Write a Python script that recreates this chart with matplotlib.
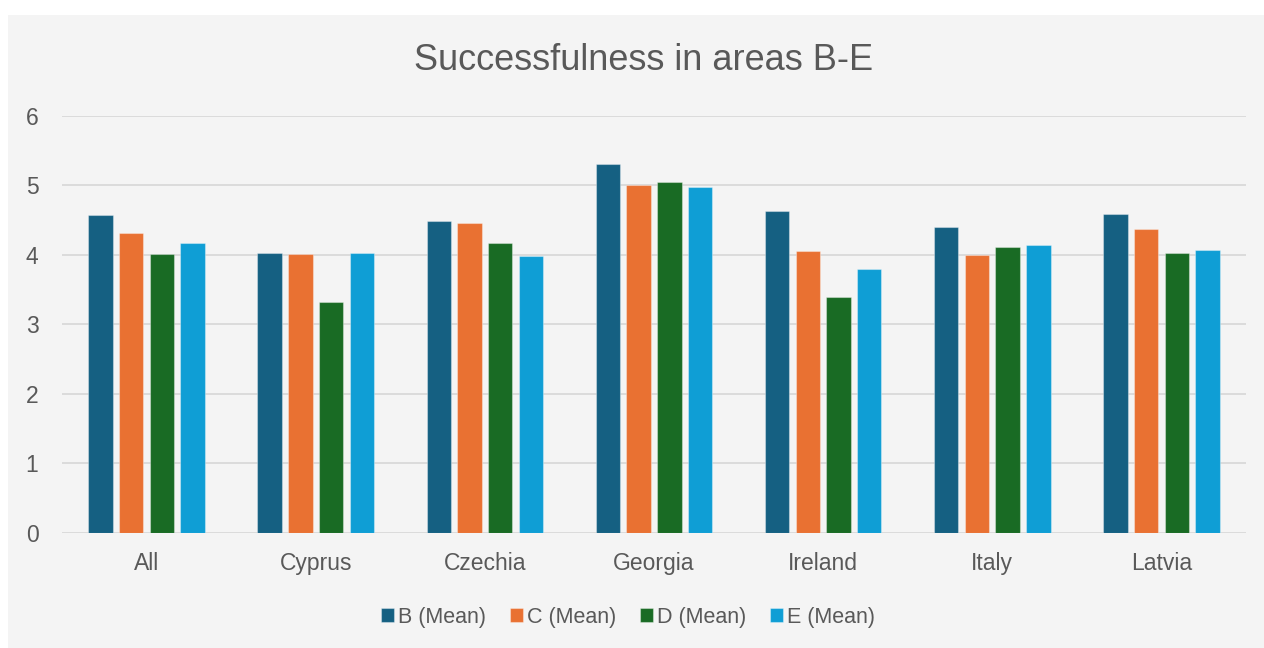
import numpy as np
import matplotlib.pyplot as plt
from matplotlib.patches import Rectangle

plt.rcParams['font.family'] = ['Liberation Sans', 'DejaVu Sans']

countries = ["All", "Cyprus", "Czechia", "Georgia", "Ireland", "Italy", "Latvia"]
b_mean = [4.57, 4.02, 4.49, 5.30, 4.63, 4.40, 4.59]
c_mean = [4.32, 4.01, 4.46, 5.01, 4.05, 4.00, 4.37]
d_mean = [4.01, 3.32, 4.17, 5.04, 3.40, 4.11, 4.02]
e_mean = [4.17, 4.02, 3.98, 4.97, 3.80, 4.14, 4.07]

series = [
    ("B (Mean)", b_mean, "#156082"),
    ("C (Mean)", c_mean, "#E97132"),
    ("D (Mean)", d_mean, "#196B24"),
    ("E (Mean)", e_mean, "#0F9ED5"),
]

text_col = "#595959"
grid_col = "#D9D9D9"
panel_col = "#F4F4F4"

fig = plt.figure(figsize=(12.64, 6.48), dpi=100, facecolor="white")
# chart area panel with a thin white margin at top/left
fig.patches.append(Rectangle((8 / 1264, 0), 1 - 8 / 1264, 1 - 15 / 648,
                             transform=fig.transFigure, facecolor=panel_col,
                             edgecolor="none", zorder=-10))

ax = fig.add_axes([62 / 1264, 1 - 533 / 648, (1246 - 62) / 1264, (533 - 115.7) / 648])
ax.patch.set_alpha(0)

x = np.arange(len(countries))
pitch = 0.1816
width = 0.144
for i, (name, vals, col) in enumerate(series):
    ax.bar(x + (i - 1.5) * pitch, vals, width, color=col, label=name,
           edgecolor=(1, 1, 1, 0.35), linewidth=0.8, zorder=3)

ax.set_xlim(-0.5, len(countries) - 0.5)
ax.set_ylim(0, 6)
ax.set_yticks(range(7))
ax.set_xticks(x)
ax.set_xticklabels(countries)
ax.grid(axis="y", color=grid_col, linewidth=1.3, zorder=0)
for s in ax.spines.values():
    s.set_visible(False)
ax.tick_params(axis="both", length=0, colors=text_col, labelsize=16.5)
ax.tick_params(axis="y", pad=17)
ax.tick_params(axis="x", pad=14)

fig.text(644 / 1264, 1 - 60 / 648, "Successfulness in areas B-E", ha="center", va="center",
         fontsize=26, color=text_col)

leg = fig.legend(loc="center", bbox_to_anchor=(628 / 1264, 1 - 617 / 648), ncol=4,
                 frameon=False, fontsize=15.5, handlelength=0.6, handleheight=0.6,
                 handletextpad=0.2, columnspacing=1.1, labelcolor=text_col)

fig.savefig("out.png", dpi=100, facecolor="white")
